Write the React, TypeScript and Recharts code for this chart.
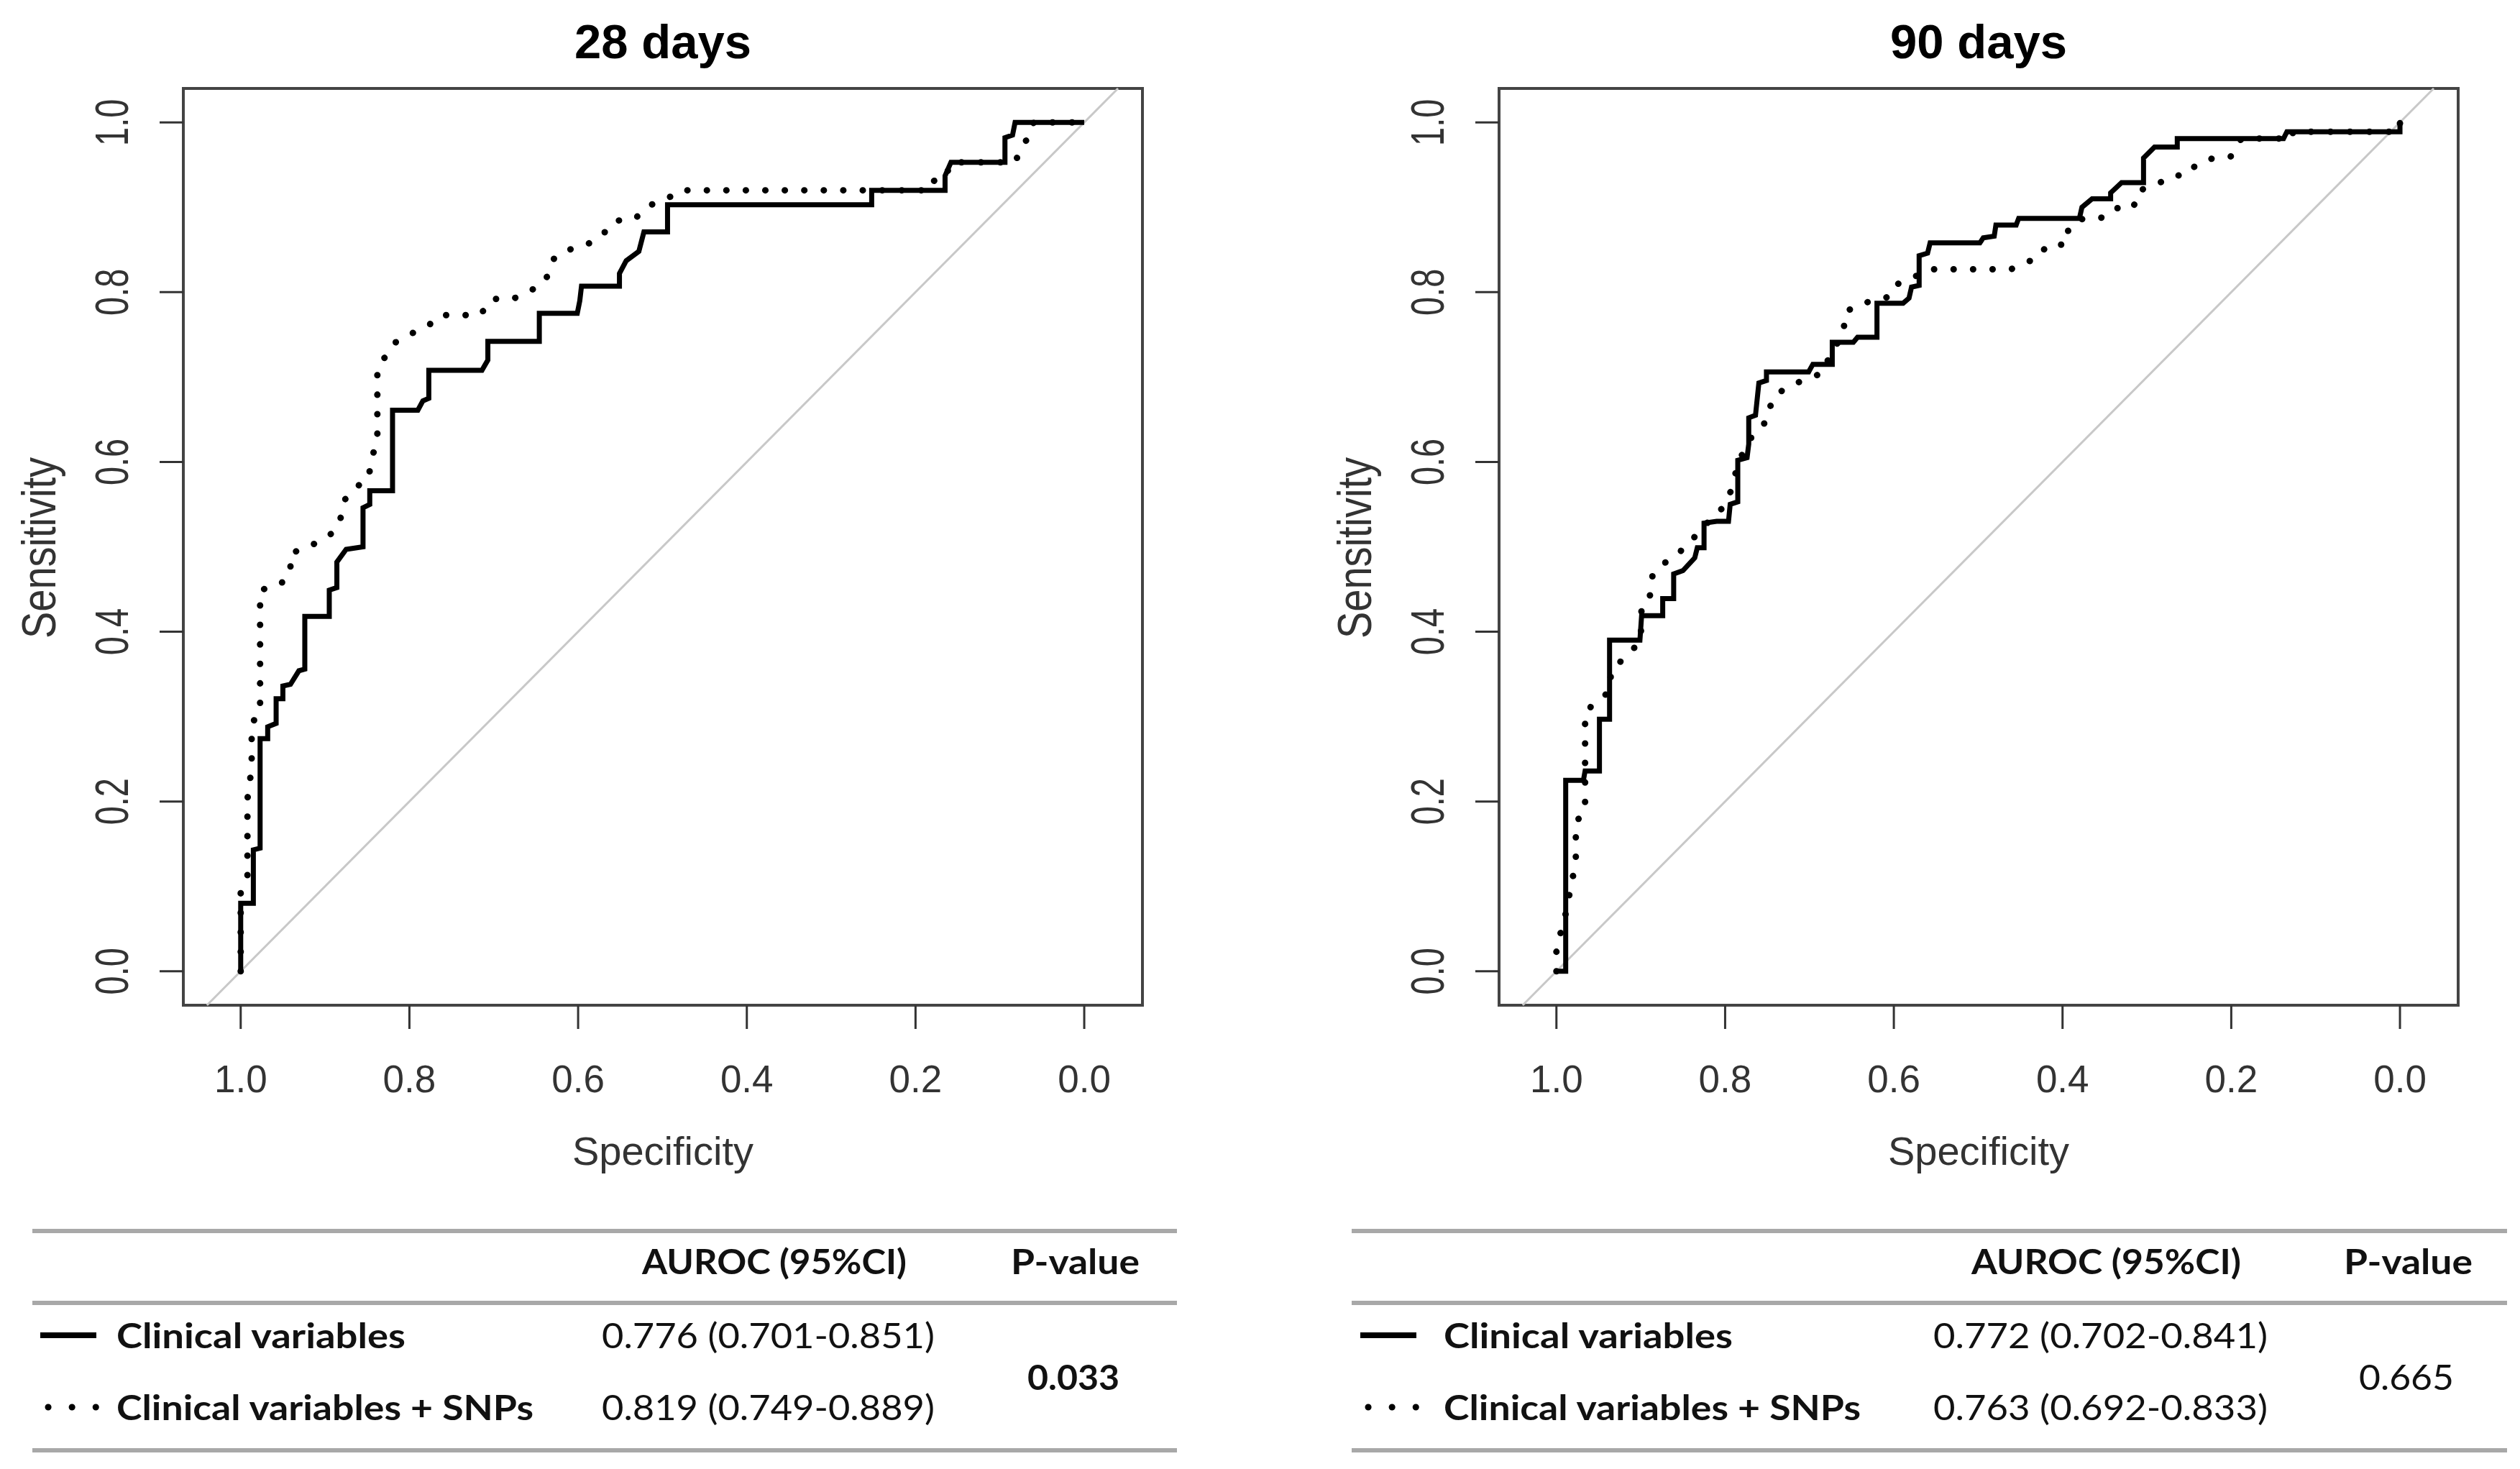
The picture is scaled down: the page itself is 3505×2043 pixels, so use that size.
import React from "react";
import { LineChart, Line, XAxis, YAxis, ReferenceLine, ReferenceArea } from "recharts";

const panelTitles = ["28 days", "90 days"];
const axisTicks = [0, 0.2, 0.4, 0.6, 0.8, 1.0];

// ROC curves as [specificity, sensitivity]
const clinical28: [number, number][] = [
  [1.0, 0.0], [1.0, 0.08], [0.985, 0.08], [0.985, 0.143], [0.977, 0.145], [0.977, 0.274],
  [0.968, 0.274], [0.968, 0.288], [0.958, 0.292], [0.958, 0.321], [0.95, 0.321], [0.95, 0.336],
  [0.941, 0.338], [0.931, 0.354], [0.924, 0.356], [0.924, 0.418], [0.895, 0.418], [0.895, 0.449],
  [0.886, 0.452], [0.886, 0.482], [0.875, 0.497], [0.855, 0.5], [0.855, 0.546], [0.847, 0.55],
  [0.847, 0.566], [0.82, 0.566], [0.82, 0.661], [0.79, 0.661], [0.784, 0.672], [0.777, 0.675],
  [0.777, 0.708], [0.714, 0.708], [0.707, 0.72], [0.707, 0.742], [0.646, 0.742], [0.646, 0.775],
  [0.601, 0.775], [0.598, 0.79], [0.596, 0.807], [0.551, 0.807], [0.551, 0.822], [0.543, 0.837],
  [0.528, 0.848], [0.522, 0.871], [0.494, 0.871], [0.494, 0.903], [0.252, 0.903], [0.252, 0.92],
  [0.165, 0.92], [0.165, 0.937], [0.158, 0.953], [0.094, 0.953], [0.094, 0.982], [0.085, 0.985],
  [0.082, 1.0], [0.0, 1.0],
];

const snps28: [number, number][] = [
  [1.0, 0.0], [1.0, 0.092], [0.992, 0.112], [0.992, 0.203], [0.989, 0.224], [0.987, 0.243],
  [0.987, 0.292], [0.977, 0.305], [0.977, 0.449], [0.954, 0.455], [0.941, 0.468], [0.941, 0.493],
  [0.925, 0.497], [0.91, 0.505], [0.89, 0.517], [0.882, 0.532], [0.877, 0.555], [0.864, 0.57],
  [0.848, 0.58], [0.846, 0.602], [0.838, 0.623], [0.838, 0.71], [0.828, 0.725], [0.818, 0.74],
  [0.796, 0.752], [0.777, 0.761], [0.764, 0.773], [0.716, 0.773], [0.703, 0.792], [0.677, 0.792],
  [0.664, 0.799], [0.645, 0.807], [0.637, 0.818], [0.629, 0.839], [0.618, 0.848], [0.596, 0.854],
  [0.581, 0.86], [0.568, 0.871], [0.557, 0.884], [0.533, 0.886], [0.518, 0.901], [0.487, 0.914],
  [0.48, 0.92], [0.19, 0.92], [0.19, 0.927], [0.17, 0.934], [0.165, 0.934], [0.158, 0.953],
  [0.082, 0.953], [0.075, 0.969], [0.063, 0.988], [0.06, 1.0], [0.0, 1.0],
];

const clinical90: [number, number][] = [
  [1.0, 0.0], [0.989, 0.0], [0.989, 0.225], [0.968, 0.225], [0.966, 0.236], [0.949, 0.236],
  [0.949, 0.297], [0.937, 0.297], [0.937, 0.39], [0.901, 0.39], [0.899, 0.419], [0.874, 0.419],
  [0.874, 0.439], [0.861, 0.439], [0.861, 0.468], [0.85, 0.472], [0.836, 0.487], [0.833, 0.499],
  [0.825, 0.499], [0.825, 0.528], [0.81, 0.53], [0.796, 0.53], [0.794, 0.55], [0.785, 0.553],
  [0.785, 0.602], [0.774, 0.605], [0.772, 0.621], [0.772, 0.652], [0.764, 0.655], [0.76, 0.693],
  [0.751, 0.696], [0.751, 0.706], [0.701, 0.706], [0.696, 0.715], [0.673, 0.715], [0.673, 0.741],
  [0.648, 0.741], [0.643, 0.747], [0.62, 0.747], [0.62, 0.787], [0.589, 0.787], [0.582, 0.793],
  [0.579, 0.806], [0.57, 0.808], [0.57, 0.843], [0.56, 0.846], [0.557, 0.858], [0.498, 0.858],
  [0.494, 0.864], [0.481, 0.866], [0.479, 0.879], [0.455, 0.879], [0.452, 0.887], [0.38, 0.887],
  [0.377, 0.9], [0.365, 0.91], [0.343, 0.91], [0.343, 0.917], [0.33, 0.929], [0.304, 0.929],
  [0.304, 0.958], [0.291, 0.971], [0.264, 0.971], [0.264, 0.981], [0.138, 0.981], [0.134, 0.989],
  [0.0, 0.989], [0.0, 1.0],
];

const snps90: [number, number][] = [
  [1.0, 0.0], [1.0, 0.032], [0.992, 0.053], [0.977, 0.129], [0.977, 0.176], [0.966, 0.188],
  [0.966, 0.306], [0.951, 0.318], [0.937, 0.33], [0.935, 0.355], [0.926, 0.363], [0.912, 0.376],
  [0.9, 0.39], [0.899, 0.433], [0.888, 0.444], [0.886, 0.468], [0.874, 0.479], [0.859, 0.491],
  [0.845, 0.5], [0.83, 0.52], [0.806, 0.542], [0.795, 0.56], [0.784, 0.6], [0.772, 0.625],
  [0.76, 0.639], [0.749, 0.65], [0.745, 0.673], [0.734, 0.683], [0.718, 0.692], [0.684, 0.705],
  [0.677, 0.723], [0.659, 0.753], [0.659, 0.775], [0.644, 0.785], [0.604, 0.795], [0.597, 0.809],
  [0.578, 0.817], [0.557, 0.827], [0.461, 0.827], [0.444, 0.835], [0.429, 0.84], [0.418, 0.856],
  [0.395, 0.856], [0.393, 0.876], [0.378, 0.886], [0.355, 0.887], [0.34, 0.899], [0.316, 0.899],
  [0.311, 0.919], [0.286, 0.928], [0.272, 0.937], [0.252, 0.938], [0.241, 0.951], [0.221, 0.958],
  [0.2, 0.96], [0.188, 0.981], [0.127, 0.981], [0.127, 0.989], [0.0, 0.989], [0.0, 1.0],
];

const modelNames = ["Clinical variables", "Clinical variables + SNPs"];
const tableHeaders = ["AUROC (95%CI)", "P-value"];
const auroc28 = ["0.776 (0.701-0.851)", "0.819 (0.749-0.889)"];
const auroc90 = ["0.772 (0.702-0.841)", "0.763 (0.692-0.833)"];
const pValues = ["0.033", "0.665"];

const X_DOMAIN: [number, number] = [-0.069, 1.068];
const Y_DOMAIN: [number, number] = [-0.04, 1.04];

const toPoints = (arr: [number, number][]) => arr.map(([spec, sens]) => ({ spec, sens }));

const R_FONT = "'Liberation Sans', Arial, sans-serif";
const TABLE_FONT = "Lato, 'Open Sans', sans-serif";

const CHART_W = 1675;
const CHART_H = 1660;
const MARGIN = { top: 123, right: 86, bottom: 62, left: 155 };

const XTick = (props: any) => {
  const { x, y, payload } = props;
  return (
    <text x={x} y={y + 88} textAnchor="middle" fontSize={53} fontFamily={R_FONT} fill="#333">
      {Number(payload.value).toFixed(1)}
    </text>
  );
};

// rotated labels look taller than wide in the source picture
const YTick = (props: any) => {
  const { x, y, payload } = props;
  return (
    <text
      transform={`translate(${x - 44}, ${y}) rotate(-90) scale(1, 1.38)`}
      textAnchor="middle" fontSize={47} fontFamily={R_FONT} fill="#333"
    >
      {Number(payload.value).toFixed(1)}
    </text>
  );
};

const XTitle = () => (
  <text x={922} y={1620} textAnchor="middle" fontSize={56} fontFamily={R_FONT} fill="#333">
    Specificity
  </text>
);

const YTitle = () => (
  <text
    transform="translate(77, 762) rotate(-90) scale(1, 1.2)"
    textAnchor="middle" fontSize={56} fontFamily={R_FONT} fill="#333"
  >
    Sensitivity
  </text>
);

function RocPanel({ title, clinical, snps, left }: { title: string; clinical: [number, number][]; snps: [number, number][]; left: number }) {
  return (
    <div style={{ position: "absolute", left, top: 0, width: CHART_W, height: CHART_H }}>
      <div
        style={{
          position: "absolute", left: 255, width: 1334, top: 24, textAlign: "center",
          fontFamily: R_FONT, fontWeight: "bold", fontSize: 67, lineHeight: "67px", color: "#000",
        }}
      >
        {title}
      </div>
      <LineChart width={CHART_W} height={CHART_H} margin={MARGIN}>
        <XAxis
          type="number" dataKey="spec" domain={X_DOMAIN} reversed allowDataOverflow
          ticks={axisTicks} interval={0} axisLine={false} tickSize={33} tickMargin={0}
          tickLine={{ stroke: "#333", strokeWidth: 3 }} tick={<XTick />} height={200} label={<XTitle />}
        />
        <YAxis
          type="number" dataKey="sens" domain={Y_DOMAIN} allowDataOverflow
          ticks={axisTicks} interval={0} axisLine={false} tickSize={33} tickMargin={0}
          tickLine={{ stroke: "#333", strokeWidth: 3 }} tick={<YTick />} width={100} label={<YTitle />}
        />
        <ReferenceArea
          x1={X_DOMAIN[0]} x2={X_DOMAIN[1]} y1={Y_DOMAIN[0]} y2={Y_DOMAIN[1]}
          fill="none" fillOpacity={0} stroke="#444" strokeWidth={4} ifOverflow="visible"
        />
        <ReferenceLine
          segment={[{ x: 1.04, y: -0.04 }, { x: -0.04, y: 1.04 }]}
          stroke="#c8c8c8" strokeWidth={3} ifOverflow="visible"
        />
        <Line
          data={toPoints(snps)} dataKey="sens" type="linear" stroke="#000" strokeWidth={9}
          strokeDasharray="0.1 27" strokeLinecap="round" dot={false} activeDot={false} isAnimationActive={false}
        />
        <Line
          data={toPoints(clinical)} dataKey="sens" type="linear" stroke="#000" strokeWidth={7}
          strokeLinejoin="miter" dot={false} activeDot={false} isAnimationActive={false}
        />
      </LineChart>
    </div>
  );
}

const tableLayouts = [
  { x1: 45, x2: 1637, legendX: 56, labelX: 162, headX: 893, headW: 368, pHeadX: 1406, valueX: 837, valueW: 463, pX: 1429, pW: 128, pBold: true },
  { x1: 1880, x2: 3487, legendX: 1892, labelX: 2008, headX: 2742, headW: 375, pHeadX: 3260, valueX: 2689, valueW: 465, pX: 3281, pW: 132, pBold: false },
];

function ResultTable({ layout, values, pValue }: { layout: (typeof tableLayouts)[number]; values: string[]; pValue: string }) {
  const L = layout;
  const txt = { fontFamily: TABLE_FONT, fontSize: 48, fill: "#111" } as const;
  const labelWidths = [402, 580];
  const rowBase = [1875, 1975];
  return (
    <g>
      {[1712, 1812, 2017].map((y) => (
        <line key={y} x1={L.x1} x2={L.x2} y1={y} y2={y} stroke="#a8a8a8" strokeWidth={6} />
      ))}
      <text x={L.headX} y={1772} {...txt} fontWeight="bold" textLength={L.headW} lengthAdjust="spacingAndGlyphs">{tableHeaders[0]}</text>
      <text x={L.pHeadX} y={1772} {...txt} fontWeight="bold" textLength={179} lengthAdjust="spacingAndGlyphs">{tableHeaders[1]}</text>
      <line x1={L.legendX} x2={L.legendX + 78} y1={1857} y2={1857} stroke="#000" strokeWidth={8} />
      <line x1={L.legendX + 11} x2={L.legendX + 80} y1={1957} y2={1957} stroke="#000" strokeWidth={9} strokeDasharray="0.1 33" strokeLinecap="round" />
      {modelNames.map((name, i) => (
        <g key={name}>
          <text x={L.labelX} y={rowBase[i]} {...txt} fontWeight="bold" textLength={labelWidths[i]} lengthAdjust="spacingAndGlyphs">{name}</text>
          <text x={L.valueX} y={rowBase[i]} {...txt} textLength={L.valueW} lengthAdjust="spacingAndGlyphs">{values[i]}</text>
        </g>
      ))}
      <text x={L.pX} y={1933} {...txt} fontWeight={L.pBold ? "bold" : "normal"} textLength={L.pW} lengthAdjust="spacingAndGlyphs">{pValue}</text>
    </g>
  );
}

export default function App() {
  return (
    <div style={{ position: "absolute", left: 0, top: 0, width: 3505, height: 2043, overflow: "hidden", background: "#fff" }}>
      <RocPanel title={panelTitles[0]} clinical={clinical28} snps={snps28} left={0} />
      <RocPanel title={panelTitles[1]} clinical={clinical90} snps={snps90} left={1830} />
      <svg width={3505} height={2043} style={{ position: "absolute", left: 0, top: 0, pointerEvents: "none" }}>
        <ResultTable layout={tableLayouts[0]} values={auroc28} pValue={pValues[0]} />
        <ResultTable layout={tableLayouts[1]} values={auroc90} pValue={pValues[1]} />
      </svg>
    </div>
  );
}
